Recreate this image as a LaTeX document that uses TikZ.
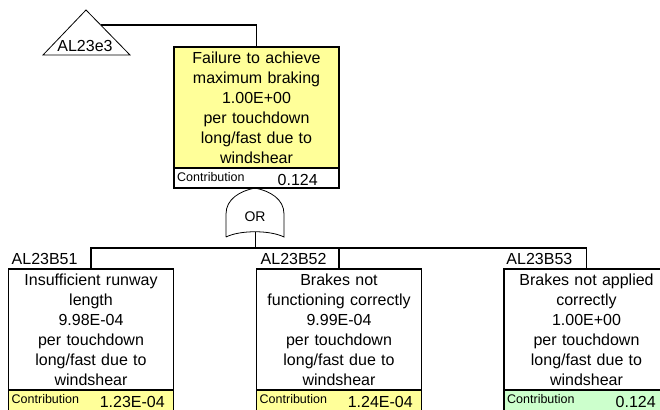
\documentclass[tikz,border=0pt]{standalone}
\usepackage{fontspec}
\setmainfont{Liberation Sans}
\usetikzlibrary{positioning, calc}
\definecolor{evyellow}{RGB}{255,255,153}
\definecolor{evgreen}{RGB}{204,255,204}
\tikzset{
  event/.style={rectangle, draw=black, fill=white, line width=1.6pt,
    minimum width=165pt, minimum height=121pt, text width=160pt,
    align=center, inner sep=0pt, outer sep=0pt,
    font=\fontsize{16}{20}\selectfont},
  contrib/.style={rectangle, draw=black, line width=1.6pt,
    minimum width=165pt, minimum height=20pt, inner sep=0pt, outer sep=0pt},
  ctext/.style={font=\fontsize{12.5}{14}\selectfont, inner sep=0pt,
    anchor=base west},
  cval/.style={font=\fontsize{16}{18}\selectfont, inner sep=0pt, anchor=base},
  tag/.style={font=\fontsize{16}{18}\selectfont, inner sep=0pt},
  conn/.style={line width=1.6pt, color=black},
  gateline/.style={line width=0.8pt, color=black}
}

\begin{document}
\begin{tikzpicture}[x=1pt, y=-1pt, node distance=4pt and 3pt]
  \useasboundingbox (0,0) rectangle (660,409);
  \clip (0,0) rectangle (660,409);

  % Transfer triangle
  \draw[gateline] (43,55) -- (86,10) -- (130,55) -- cycle;
  \node[tag, anchor=base] (xlab) at (85,52) {AL23e3};
  \coordinate (xfer) at (100.7,25);

  % Top event
  \node[event, fill=evyellow, anchor=north] (top) at (256.5,47)
    {Failure to achieve\\maximum braking\\1.00E+00\\per touchdown\\long/fast due to\\windshear};
  \node[contrib, fill=white, below=0pt of top] (ctop) {};
  \node[ctext] (ltop) at ($(ctop.north west)+(3,13)$) {Contribution};
  \node[cval] (vtop) at ($(ctop.north west)!0.75!(ctop.north east)+(0,17)$) {0.124};

  % OR gate
  \coordinate (gtop) at (255,188);
  \coordinate (gbot) at (255,232);
  \draw[gateline] (226,237) -- (226,214) .. controls (226,199) and (240,191) .. (gtop)
    .. controls (270,191) and (284,199) .. (284,214) -- (284,237)
    .. controls (270,230) and (240,230) .. (226,237);
  \node[font=\fontsize{14}{16}\selectfont, inner sep=0pt] (orlab) at (255,217) {OR};

  % Basic events
  \node[event, anchor=north] (b1) at (91,269)
    {Insufficient runway\\length\\9.98E-04\\per touchdown\\long/fast due to\\windshear};
  \node[event, anchor=north] (b2) at (339,269)
    {Brakes not\\functioning correctly\\9.99E-04\\per touchdown\\long/fast due to\\windshear};
  \node[event, anchor=north] (b3) at (586.5,269)
    {Brakes not applied\\correctly\\1.00E+00\\per touchdown\\long/fast due to\\windshear};

  \node[contrib, minimum height=26pt, fill=evyellow, below=0pt of b1] (c1) {};
  \node[contrib, minimum height=26pt, fill=evyellow, below=0pt of b2] (c2) {};
  \node[contrib, minimum height=26pt, fill=evgreen, below=0pt of b3] (c3) {};
  \node[ctext] (l1) at ($(c1.north west)+(3,13)$) {Contribution};
  \node[ctext] (l2) at ($(c2.north west)+(3,13)$) {Contribution};
  \node[ctext] (l3) at ($(c3.north west)+(3,13)$) {Contribution};
  \node[cval] (v1) at ($(c1.north west)!0.75!(c1.north east)+(0,17)$) {1.23E-04};
  \node[cval] (v2) at ($(c2.north west)!0.75!(c2.north east)+(0,17)$) {1.24E-04};
  \node[cval] (v3) at ($(c3.north west)!0.75!(c3.north east)+(8,17)$) {0.124};

  % Labels
  \node[tag, above right=4pt and 3pt of b1.north west, anchor=south west] (t1) {AL23B51};
  \node[tag, above right=4pt and 4pt of b2.north west, anchor=south west] (t2) {AL23B52};
  \node[tag, above left=4pt and 14pt of b3.north, anchor=south east] (t3) {AL23B53};

  % Connectors
  \coordinate (bus) at (255,248);
  \draw[conn] (xfer) -| (top.north);
  \draw[gateline] (gbot) -- (bus);
  \draw[conn] (b1.north) |- (bus) -| (b3.north);
  \draw[conn] (b2.north) -- (b2.north |- bus);
\end{tikzpicture}
\end{document}
